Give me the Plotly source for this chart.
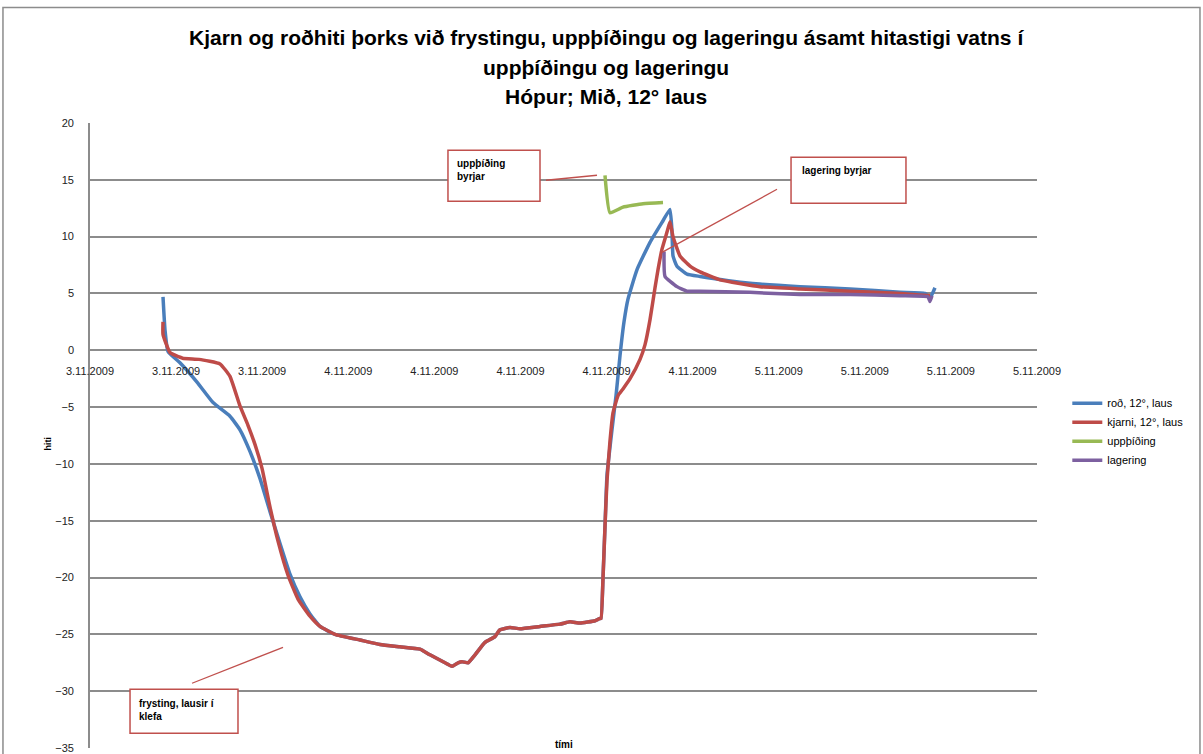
import plotly.graph_objects as go

# x values are in units of category-label intervals (0 = first label)
tick_labels = ["3.11.2009", "3.11.2009", "3.11.2009", "4.11.2009", "4.11.2009", "4.11.2009",
               "4.11.2009", "4.11.2009", "5.11.2009", "5.11.2009", "5.11.2009", "5.11.2009"]

rod_x = [0.848, 0.871, 0.906, 1.045, 1.243, 1.429, 1.626, 1.742, 1.858, 1.975, 2.091, 2.207,
         2.323, 2.439, 2.555, 2.672, 2.846, 3.136, 3.369, 3.601, 3.833, 3.949, 4.124, 4.205,
         4.275, 4.321, 4.391, 4.472, 4.588, 4.704, 4.762, 4.879, 4.995, 5.227, 5.459, 5.576,
         5.692, 5.866, 5.924, 5.936, 5.959, 5.982, 6.005, 6.063, 6.110, 6.156, 6.203, 6.249,
         6.354, 6.505, 6.656, 6.737, 6.760, 6.772, 6.818, 6.935, 7.086, 7.666, 8.247, 8.828,
         9.409, 9.699, 9.757, 9.815]
rod_y = [4.7, 1.8, -0.1, -1.1, -2.8, -4.6, -5.8, -7.0, -8.9, -11.3, -14.2, -17.0,
         -19.7, -21.7, -23.2, -24.3, -25.0, -25.5, -25.9, -26.1, -26.3, -26.8, -27.5, -27.8,
         -27.5, -27.4, -27.5, -26.8, -25.7, -25.2, -24.6, -24.4, -24.5, -24.3, -24.1, -23.9,
         -24.0, -23.8, -23.6, -23.6, -20.0, -15.5, -11.0, -7.0, -4.0, -0.5, 2.5, 4.5,
         7.1, 9.5, 11.4, 12.4, 10.5, 8.3, 7.4, 6.7, 6.5, 5.9, 5.6, 5.4,
         5.1, 5.0, 4.6, 5.5]

kjarni_x = [0.848, 0.848, 0.929, 1.075, 1.266, 1.510, 1.626, 1.742, 1.835, 1.917, 1.998, 2.091,
            2.184, 2.300, 2.416, 2.555, 2.672, 2.846, 3.136, 3.369, 3.601, 3.833, 3.949, 4.124,
            4.205, 4.275, 4.321, 4.391, 4.472, 4.588, 4.704, 4.762, 4.879, 4.995, 5.227, 5.459,
            5.576, 5.692, 5.866, 5.924, 5.936, 5.959, 5.982, 6.005, 6.040, 6.075, 6.133, 6.191,
            6.273, 6.389, 6.447, 6.505, 6.563, 6.598, 6.644, 6.702, 6.737, 6.772, 6.853, 6.970,
            7.086, 7.318, 7.783, 8.247, 8.828, 9.409, 9.757]
kjarni_y = [2.5, 1.4, -0.2, -0.7, -0.8, -1.2, -2.3, -4.9, -6.6, -8.3, -10.4, -13.8,
            -16.8, -19.8, -21.9, -23.4, -24.3, -25.0, -25.5, -25.9, -26.1, -26.3, -26.8, -27.5,
            -27.8, -27.5, -27.4, -27.5, -26.8, -25.7, -25.2, -24.6, -24.4, -24.5, -24.3, -24.1,
            -23.9, -24.0, -23.8, -23.6, -23.6, -20.0, -15.5, -11.5, -8.0, -5.5, -4.0, -3.4,
            -2.5, -0.8, 0.5, 2.7, 5.5, 7.1, 8.9, 10.4, 11.3, 10.0, 8.3, 7.4,
            6.9, 6.2, 5.6, 5.4, 5.2, 5.0, 4.8]

uppthiding_x = [5.982, 6.040, 6.191, 6.424, 6.656]
uppthiding_y = [15.4, 12.1, 12.6, 12.9, 13.0]

lagering_x = [6.668, 6.679, 6.818, 6.935, 7.086, 7.666, 8.247, 8.828, 9.409, 9.734, 9.757, 9.780]
lagering_y = [8.7, 6.5, 5.6, 5.2, 5.2, 5.1, 4.9, 4.9, 4.8, 4.7, 4.3, 4.8]

names = ["roð, 12°, laus", "kjarni, 12°, laus", "uppþíðing", "lagering"]
colors = ["#4A7EBB", "#BE4B48", "#98B954", "#7D60A0"]
series = [(rod_x, rod_y), (kjarni_x, kjarni_y), (uppthiding_x, uppthiding_y), (lagering_x, lagering_y)]

title_lines = ["Kjarn og roðhiti þorks við frystingu, uppþíðingu og lageringu ásamt hitastigi vatns í",
               "uppþíðingu og lageringu",
               "Hópur; Mið, 12° laus"]

FONT = "Liberation Sans, Arial, sans-serif"

fig = go.Figure()
for (xs, ys), n, c in zip(series, names, colors):
    fig.add_trace(go.Scatter(x=xs, y=ys, mode="lines", name=n,
                             line=dict(color=c, width=3.5, shape="spline", smoothing=0.4)))

# annotation boxes (data coords)
boxes = [
    dict(x0=4.158, x1=5.227, y0=13.11, y1=17.6, tx=4.24, ty=17.07, text="uppþíðing<br>byrjar",
         lx=[5.297, 5.889], ly=[14.96, 15.4]),
    dict(x0=8.143, x1=9.478, y0=12.94, y1=16.98, tx=8.247, ty=16.5, text="lagering byrjar",
         lx=[7.980, 6.644], ly=[14.17, 8.62]),
    dict(x0=0.465, x1=1.719, y0=-33.70, y1=-29.83, tx=0.546, ty=-30.45, text="frysting, lausir í<br>klefa",
         lx=[1.185, 2.242], ly=[-29.30, -26.14]),
]
shapes = []
annotations = []
for b in boxes:
    shapes.append(dict(type="rect", xref="x", yref="y", x0=b["x0"], x1=b["x1"], y0=b["y0"], y1=b["y1"],
                       line=dict(color="#C0504D", width=1.5), fillcolor="white", layer="above"))
    shapes.append(dict(type="line", xref="x", yref="y", x0=b["lx"][0], x1=b["lx"][1],
                       y0=b["ly"][0], y1=b["ly"][1], line=dict(color="#C0504D", width=1.3), layer="above"))
    annotations.append(dict(x=b["tx"], y=b["ty"], xref="x", yref="y", text="<b>" + b["text"] + "</b>",
                            showarrow=False, xanchor="left", yanchor="top", align="left",
                            font=dict(family=FONT, size=10, color="black")))

# outer chart border (paper coords)
shapes.append(dict(type="rect", xref="paper", yref="paper", x0=-0.0919, x1=1.1721, y0=-0.02, y1=1.1849,
                   line=dict(color="#8C8C8C", width=1.5), fillcolor="rgba(0,0,0,0)", layer="below"))

# title lines
for ty, line in zip([1.1376, 1.0896, 1.0416], title_lines):
    annotations.append(dict(x=0.545, y=ty, xref="paper", yref="paper", text="<b>" + line + "</b>",
                            showarrow=False, xanchor="center", yanchor="middle",
                            font=dict(family=FONT, size=21, color="black")))

annotations.append(dict(x=0.5, y=-0.0065, xref="x domain", yref="paper", text="<b>tími</b>",
                        showarrow=False, xanchor="center", yanchor="bottom",
                        font=dict(family=FONT, size=10, color="black")))
annotations.append(dict(x=-0.052, y=0.487, xref="paper", yref="paper", text="<b>hiti</b>", textangle=-90,
                        showarrow=False, font=dict(family=FONT, size=9, color="black")))

fig.update_layout(
    width=1203, height=754,
    margin=dict(l=90, r=166, t=123, b=6, autoexpand=False),
    paper_bgcolor="white", plot_bgcolor="white",
    xaxis=dict(range=[0, 11], tickvals=list(range(12)), ticktext=tick_labels, automargin=False,
               anchor="free", position=(748 - 351) / 625, showgrid=False, showline=False,
               zeroline=False, ticks="outside", ticklen=10, tickcolor="rgba(0,0,0,0)",
               tickfont=dict(family=FONT, size=11, color="#222")),
    yaxis=dict(range=[-35, 20], dtick=5, showgrid=True, gridcolor="#8C8C8C", gridwidth=1.6,
               automargin=False, zeroline=False, showline=True, linecolor="#8C8C8C", linewidth=1.6,
               ticks="outside", ticklen=12, tickcolor="rgba(0,0,0,0)",
               tickfont=dict(family=FONT, size=11, color="#222")),
    legend=dict(x=1.032, xanchor="left", y=0.575, yanchor="top", bgcolor="rgba(0,0,0,0)",
                font=dict(family=FONT, size=11, color="black"), tracegroupgap=4, itemwidth=30),
    shapes=shapes, annotations=annotations, showlegend=True,
)
fig.write_html("out.html", config={"displayModeBar": False},
               post_script="document.body.style.margin='0';")
